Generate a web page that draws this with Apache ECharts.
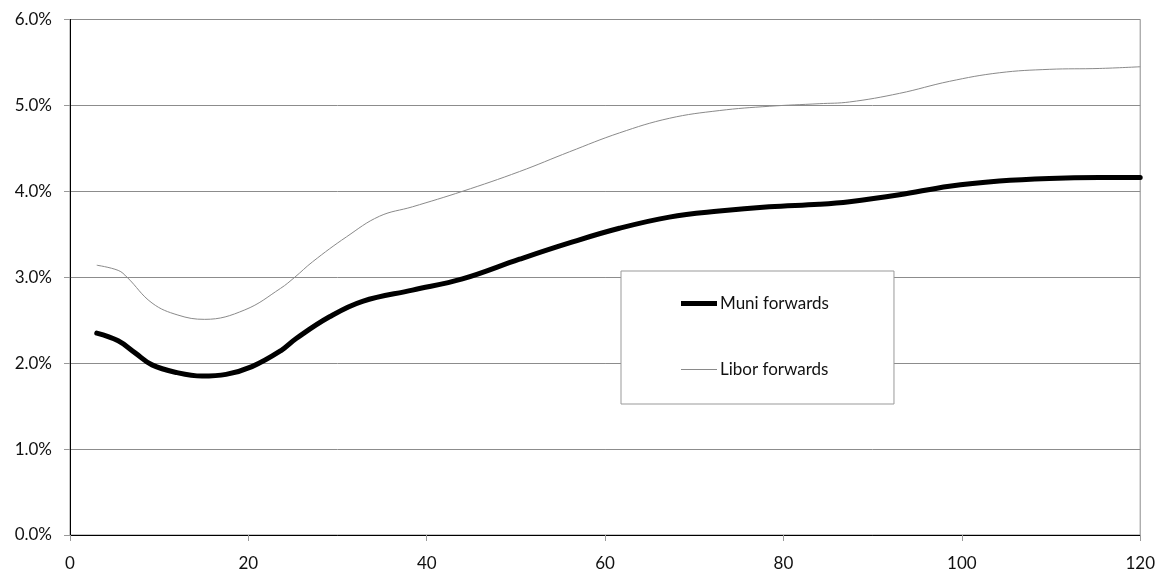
<!DOCTYPE html>
<html>
<head>
<meta charset="utf-8">
<script src="https://cdn.jsdelivr.net/npm/echarts@6/dist/echarts.min.js"></script>
<style>
  html, body { margin: 0; padding: 0; background: #fff; }
  #chart { width: 1158px; height: 575px; }
</style>
</head>
<body>
<div id="chart"></div>
<script>
// Forward rate curves (%, by month)
const muniPoints = [
  [3, 2.35], [5.4, 2.26], [7.3, 2.12], [9.2, 1.98], [12, 1.89], [14.8, 1.85],
  [17.5, 1.87], [20.4, 1.96], [23.7, 2.15], [25.4, 2.29], [29.1, 2.54],
  [32.8, 2.72], [38.4, 2.85], [44, 2.98], [50.4, 3.21], [56, 3.40],
  [61.6, 3.57], [67.2, 3.70], [72.8, 3.77], [78.4, 3.82], [84, 3.85],
  [87.4, 3.88], [93, 3.96], [98.6, 4.06], [104.2, 4.12], [109.8, 4.15],
  [115.4, 4.16], [120, 4.16]
];
const liborPoints = [
  [3, 3.14], [5.4, 3.08], [6.4, 3.00], [9.2, 2.70], [12.1, 2.56], [15.1, 2.51],
  [19.6, 2.62], [23.6, 2.87], [25.2, 3.00], [27.2, 3.18], [31, 3.47],
  [34.7, 3.71], [38.4, 3.82], [44, 4.00], [50.4, 4.23], [56, 4.46],
  [61.6, 4.68], [67.2, 4.85], [72.8, 4.94], [78.4, 4.99], [84, 5.02],
  [87.4, 5.04], [93, 5.14], [98.6, 5.28], [104.2, 5.38], [109.8, 5.42],
  [115.4, 5.43], [120, 5.45]
];
const seriesNames = ['Muni forwards', 'Libor forwards'];
const xTicks = { min: 0, max: 120, step: 20 };
const yTicks = { min: 0, max: 6, step: 1 };

const FONT = 'Lato, "Open Sans", sans-serif';
const MUNI_COLOR = '#000000';
const LIBOR_COLOR = '#8a8a8a';
const chart = echarts.init(document.getElementById('chart'));

chart.setOption({
  animation: false,
  backgroundColor: '#ffffff',
  textStyle: { fontFamily: FONT },
  grid: {
    left: 70, right: 17, top: 19.5, bottom: 40,
    show: true, borderColor: '#8c8c8c', borderWidth: 1, backgroundColor: 'transparent'
  },
  xAxis: {
    type: 'value',
    min: xTicks.min, max: xTicks.max, interval: xTicks.step,
    axisLine: { show: true, onZero: false, lineStyle: { color: '#000', width: 1 } },
    axisTick: { show: true, length: 6, lineStyle: { color: '#999' } },
    splitLine: { show: false },
    axisLabel: { color: '#111', fontSize: 17, margin: 20, fontFamily: FONT }
  },
  yAxis: {
    type: 'value',
    min: yTicks.min, max: yTicks.max, interval: yTicks.step,
    axisLine: { show: true, lineStyle: { color: '#000', width: 1 } },
    axisTick: { show: true, length: 6, lineStyle: { color: '#999' } },
    splitLine: { show: true, lineStyle: { color: '#8c8c8c', width: 1 } },
    axisLabel: {
      color: '#111', fontSize: 17, margin: 18, fontFamily: FONT,
      formatter: v => v.toFixed(1) + '%'
    }
  },
  legend: {
    show: true,
    orient: 'vertical',
    left: 621, top: 271,
    padding: [24, 65, 26, 60],
    itemWidth: 36, itemHeight: 14, itemGap: 49,
    symbolKeepAspect: true,
    borderColor: '#999', borderWidth: 1, backgroundColor: '#fff',
    textStyle: { color: '#111', fontSize: 17, fontFamily: FONT, padding: [0, 0, 0, -2] },
    data: [
      { name: seriesNames[0], icon: 'path://M0,0H36V5H0Z', itemStyle: { color: MUNI_COLOR } },
      { name: seriesNames[1], icon: 'path://M0,0H36V1H0Z', itemStyle: { color: LIBOR_COLOR } }
    ]
  },
  series: [
    {
      name: seriesNames[0], type: 'line', data: muniPoints,
      smooth: 0.4, symbol: 'none', showSymbol: false,
      lineStyle: { color: MUNI_COLOR, width: 5, cap: 'round' },
      itemStyle: { color: MUNI_COLOR }
    },
    {
      name: seriesNames[1], type: 'line', data: liborPoints,
      smooth: 0.4, symbol: 'none', showSymbol: false,
      lineStyle: { color: LIBOR_COLOR, width: 1 },
      itemStyle: { color: LIBOR_COLOR }
    }
  ]
});
</script>
</body>
</html>
